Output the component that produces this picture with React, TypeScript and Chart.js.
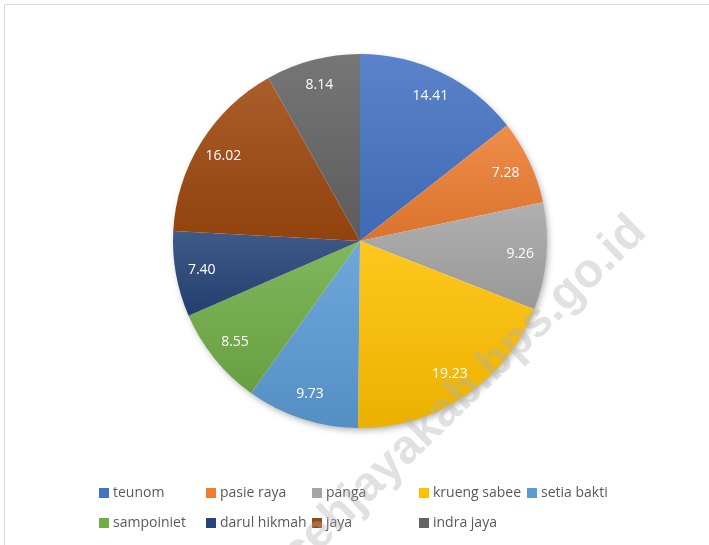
import React, { useEffect, useRef } from "react";
import { Chart, registerables } from "chart.js";

Chart.register(...registerables);

const categories = ["teunom", "pasie raya", "panga", "krueng sabee", "setia bakti", "sampoiniet", "darul hikmah", "jaya", "indra jaya"];
const values = [14.41, 7.28, 9.26, 19.23, 9.73, 8.55, 7.40, 16.02, 8.14];
const valueLabels = ["14.41", "7.28", "9.26", "19.23", "9.73", "8.55", "7.40", "16.02", "8.14"];
const colors = ["#4472C4", "#ED7D31", "#A5A5A5", "#FFC000", "#5B9BD5", "#70AD47", "#264478", "#9E480E", "#636363"];
const legendRows = [[0, 1, 2, 3, 4], [5, 6, 7, 8]];
const watermark = "acehjayakab.bps.go.id";

function mix(hex: string, target: number, t: number) {
  const n = parseInt(hex.slice(1), 16);
  const r = (n >> 16) & 255, g = (n >> 8) & 255, b = n & 255;
  const f = (c: number) => Math.round(c + (target - c) * t);
  return `rgb(${f(r)},${f(g)},${f(b)})`;
}

function sliceYRange(i: number, cy: number, r: number) {
  const total = values.reduce((a, b) => a + b, 0);
  let acc = 0;
  for (let k = 0; k < i; k++) acc += values[k];
  const a0 = -Math.PI / 2 + (acc / total) * 2 * Math.PI;
  const a1 = a0 + (values[i] / total) * 2 * Math.PI;
  const ys = [cy, cy + r * Math.sin(a0), cy + r * Math.sin(a1)];
  for (const special of [-Math.PI / 2, Math.PI / 2, (3 * Math.PI) / 2]) {
    if (special >= a0 && special <= a1) ys.push(cy + r * Math.sin(special));
  }
  return [Math.min(...ys), Math.max(...ys)];
}

const decorPlugin = {
  id: "decor",
  beforeDraw(chart: any) {
    const ctx = chart.ctx;
    ctx.save();
    ctx.fillStyle = "#ffffff";
    ctx.fillRect(0, 0, chart.width, chart.height);
    ctx.strokeStyle = "#d9d9d9";
    ctx.lineWidth = 1;
    ctx.strokeRect(4.5, 4.5, chart.width + 20, chart.height + 20);
    ctx.restore();
  },
  beforeDatasetsDraw(chart: any) {
    const meta = chart.getDatasetMeta(0);
    const arc = meta.data[0];
    if (!arc) return;
    const ctx = chart.ctx;
    ctx.save();
    ctx.shadowColor = "rgba(0,0,0,0.35)";
    ctx.shadowBlur = 7;
    ctx.shadowOffsetX = 2;
    ctx.shadowOffsetY = 3;
    ctx.fillStyle = "#ffffff";
    ctx.beginPath();
    ctx.arc(arc.x, arc.y, arc.outerRadius - 1, 0, Math.PI * 2);
    ctx.fill();
    ctx.restore();
  },
  afterDatasetsDraw(chart: any) {
    const ctx = chart.ctx;
    const meta = chart.getDatasetMeta(0);
    ctx.save();
    ctx.font = "14px 'Open Sans'";
    ctx.fillStyle = "#ffffff";
    ctx.textAlign = "center";
    ctx.textBaseline = "middle";
    meta.data.forEach((el: any, i: number) => {
      const mid = (el.startAngle + el.endAngle) / 2;
      const d = el.outerRadius * 0.86;
      ctx.fillText(valueLabels[i], el.x + Math.cos(mid) * d, el.y + Math.sin(mid) * d);
    });
    // legend
    ctx.font = "14px 'Open Sans'";
    ctx.textAlign = "left";
    const colX = [99, 206, 312, 419, 527];
    const rowY = [493, 523];
    legendRows.forEach((row, ri) => {
      row.forEach((idx, ci) => {
        const x = colX[ci];
        const y = rowY[ri];
        ctx.fillStyle = colors[idx];
        ctx.fillRect(x, y - 5, 10, 10);
        ctx.fillStyle = "#595959";
        ctx.fillText(categories[idx], x + 14, y);
      });
    });
    ctx.restore();
  },
  afterDraw(chart: any) {
    const ctx = chart.ctx;
    ctx.save();
    ctx.translate(648, 234);
    ctx.rotate((-44 * Math.PI) / 180);
    ctx.font = "bold 48px 'Liberation Sans'";
    ctx.fillStyle = "rgba(175,175,175,0.38)";
    ctx.textAlign = "right";
    ctx.textBaseline = "alphabetic";
    ctx.fillText(watermark, 0, 0);
    ctx.restore();
  },
};

export default function App() {
  const ref = useRef<HTMLCanvasElement | null>(null);
  useEffect(() => {
    document.body.style.margin = "0";
    const canvas = ref.current;
    if (!canvas) return;
    const chart = new Chart(canvas, {
      type: "pie",
      data: {
        labels: categories,
        datasets: [
          {
            data: values,
            borderWidth: 0,
            backgroundColor: (c: any) => {
              const chart = c.chart;
              const area = chart.chartArea;
              const i = c.dataIndex;
              if (!area || i === undefined) return colors[i ?? 0];
              const cy = (area.top + area.bottom) / 2;
              const r = Math.min(area.right - area.left, area.bottom - area.top) / 2;
              const [y0, y1] = sliceYRange(i, cy, r);
              const g = chart.ctx.createLinearGradient(0, y0, 0, y1);
              g.addColorStop(0, mix(colors[i], 255, 0.12));
              g.addColorStop(1, mix(colors[i], 0, 0.08));
              return g;
            },
          },
        ],
      },
      options: {
        animation: false,
        responsive: false,
        layout: { padding: { top: 54, bottom: 117, left: 173, right: 162 } },
        plugins: { legend: { display: false }, tooltip: { enabled: false } },
      },
      plugins: [decorPlugin],
    });
    return () => chart.destroy();
  }, []);
  return <canvas ref={ref} width={709} height={545} style={{ display: "block" }} />;
}
